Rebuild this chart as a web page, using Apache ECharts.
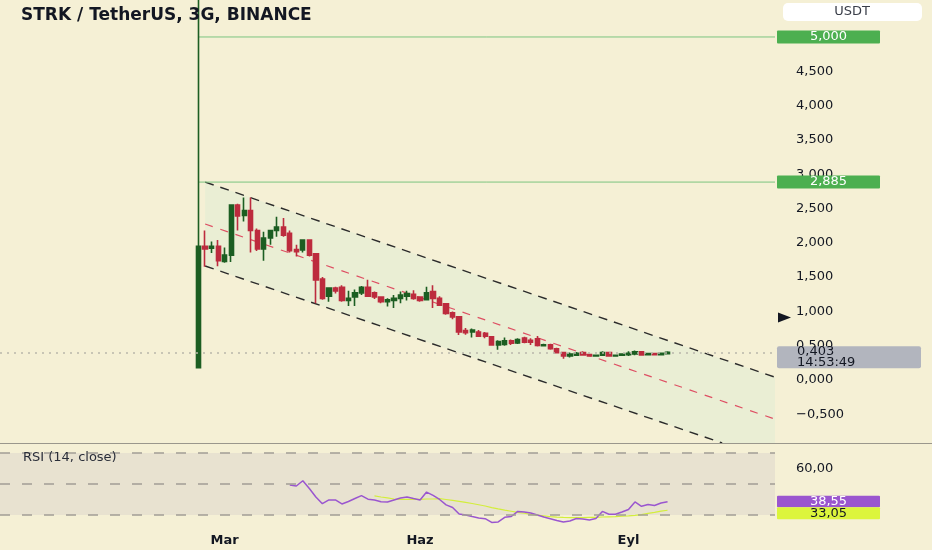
<!DOCTYPE html>
<html>
<head>
<meta charset="utf-8">
<script src="https://cdn.jsdelivr.net/npm/echarts/dist/echarts.min.js"></script>
<style>
html,body{margin:0;padding:0;background:#f5f0d5;}
#chart{width:932px;height:550px;}
</style>
</head>
<body>
<div id="chart"></div>
<script>
// ---------- data ----------
const title = 'STRK / TetherUS, 3G, BINANCE';
const firstCandleDate = '2024-02-20';
const stepDays = 3;
const padBefore = 30;      // empty category slots left of first candle
const totalCats = 119;     // category slots across plot width

// [open, close, low, high]
const candleOHLC = [
  [0.18, 1.95, 0.17, 5.60],
  [1.95, 1.91, 1.65, 2.18],
  [1.92, 1.95, 1.85, 2.02],
  [1.95, 1.74, 1.66, 2.04],
  [1.73, 1.82, 1.71, 1.93],
  [1.82, 2.55, 1.72, 2.56],
  [2.55, 2.39, 2.18, 2.57],
  [2.40, 2.47, 2.31, 2.66],
  [2.47, 2.18, 1.86, 2.66],
  [2.18, 1.91, 1.88, 2.21],
  [1.91, 2.07, 1.74, 2.16],
  [2.07, 2.18, 1.97, 2.19],
  [2.18, 2.23, 2.09, 2.38],
  [2.23, 2.11, 2.09, 2.36],
  [2.14, 1.885, 1.86, 2.18],
  [1.90, 1.87, 1.80, 1.97],
  [1.895, 2.04, 1.86, 2.05],
  [2.04, 1.82, 1.80, 2.05],
  [1.84, 1.46, 1.12, 1.84],
  [1.47, 1.19, 1.17, 1.50],
  [1.22, 1.34, 1.14, 1.34],
  [1.34, 1.30, 1.26, 1.36],
  [1.35, 1.16, 1.14, 1.38],
  [1.16, 1.19, 1.08, 1.30],
  [1.21, 1.27, 1.08, 1.32],
  [1.27, 1.35, 1.24, 1.37],
  [1.35, 1.22, 1.21, 1.46],
  [1.27, 1.21, 1.18, 1.29],
  [1.21, 1.14, 1.12, 1.22],
  [1.14, 1.17, 1.07, 1.19],
  [1.16, 1.19, 1.05, 1.24],
  [1.19, 1.24, 1.12, 1.29],
  [1.22, 1.26, 1.16, 1.30],
  [1.25, 1.19, 1.17, 1.31],
  [1.21, 1.16, 1.14, 1.22],
  [1.17, 1.27, 1.16, 1.36],
  [1.29, 1.19, 1.05, 1.38],
  [1.19, 1.09, 1.08, 1.22],
  [1.11, 0.97, 0.95, 1.12],
  [0.98, 0.92, 0.885, 1.00],
  [0.92, 0.70, 0.656, 0.93],
  [0.72, 0.69, 0.66, 0.76],
  [0.70, 0.73, 0.62, 0.75],
  [0.70, 0.64, 0.63, 0.73],
  [0.68, 0.64, 0.61, 0.70],
  [0.63, 0.51, 0.51, 0.64],
  [0.51, 0.56, 0.44, 0.58],
  [0.52, 0.57, 0.50, 0.62],
  [0.57, 0.535, 0.51, 0.59],
  [0.54, 0.59, 0.525, 0.61],
  [0.61, 0.55, 0.535, 0.63],
  [0.58, 0.55, 0.51, 0.61],
  [0.60, 0.505, 0.49, 0.64],
  [0.50, 0.515, 0.49, 0.53],
  [0.515, 0.456, 0.44, 0.53],
  [0.456, 0.40, 0.39, 0.47],
  [0.40, 0.35, 0.31, 0.41],
  [0.35, 0.38, 0.33, 0.40],
  [0.36, 0.39, 0.35, 0.41],
  [0.40, 0.365, 0.355, 0.42],
  [0.37, 0.35, 0.345, 0.38],
  [0.35, 0.36, 0.34, 0.37],
  [0.36, 0.40, 0.35, 0.42],
  [0.40, 0.35, 0.34, 0.41],
  [0.35, 0.36, 0.34, 0.37],
  [0.36, 0.38, 0.35, 0.39],
  [0.37, 0.39, 0.35, 0.42],
  [0.38, 0.41, 0.36, 0.43],
  [0.41, 0.365, 0.36, 0.42],
  [0.37, 0.385, 0.36, 0.39],
  [0.385, 0.37, 0.36, 0.39],
  [0.37, 0.39, 0.36, 0.40],
  [0.385, 0.403, 0.375, 0.42]
];

const rsiStart = 14;   // candle index of first RSI value
const rsiValues = [
  49.4, 48.7, 52.1, 47.1, 41.6, 37.3, 39.7, 39.7, 37.1, 38.7,
  40.6, 42.5, 40.2, 39.7, 38.6, 38.4, 39.7, 41.0, 41.6, 40.6,
  39.7, 44.8, 42.6, 40.0, 36.5, 34.8, 30.6, 30.0, 29.0, 28.1,
  27.6, 25.2, 25.5, 28.5, 29.0, 32.3, 31.9, 31.3, 30.0, 28.7,
  27.6, 26.5, 25.5, 26.1, 27.7, 27.4, 26.8, 27.7, 32.3, 30.5,
  30.5, 31.9, 33.5, 38.4, 35.6, 36.8, 36.1, 37.7, 38.55
];
const rsiMaStart = 27; // candle index of first RSI-MA value
const rsiMaValues = [
  42.3, 41.6, 41.0, 40.3, 40.1, 40.1, 40.1, 40.1, 40.3, 40.3,
  40.5, 40.0, 39.4, 38.8, 38.1, 37.4, 36.6, 35.8, 34.8, 33.9,
  33.1, 32.4, 31.7, 31.1, 30.4, 29.9, 29.4, 28.9, 28.6, 28.4,
  28.3, 28.3, 28.3, 28.4, 28.5, 28.7, 28.8, 28.9, 29.2, 29.4,
  29.7, 30.2, 31.0, 31.7, 32.5, 33.05
];

const priceTicks = [-0.5, 0, 0.5, 1, 1.5, 2, 2.5, 3, 3.5, 4, 4.5];
const rsiTicks = [60];
const rsiLevels = [70, 50, 30];
const monthTickDates = ['2024-03-03', '2024-06-01', '2024-09-05'];
const monthTickLabels = ['Mar', 'Haz', 'Eyl'];

const hLevels = [5.0, 2.885];
const channelStartCandle = 1;
const channelUpper = 2.885;
const channelLower = 1.662;
const channelSlope = -0.0325; // per candle
const lastPrice = 0.403;
const countdown = '14:53:49';
const markerLevel = 0.91;
const rsiLast = 38.55;
const rsiMaLast = 33.05;

// ---------- build ----------
const DAY = 86400000;
const t0 = Date.parse(firstCandleDate + 'T00:00:00Z');
const categories = [];
for (let k = 0; k < totalCats; k++) {
  const d = new Date(t0 + (k - padBefore) * stepDays * DAY);
  categories.push(d.toISOString().slice(0, 10));
}
const candleData = candleOHLC.map((d, i) => [padBefore + i, d[0], d[1], d[2], d[3]]);
const rsiData = rsiValues.map((v, i) => [padBefore + rsiStart + i, v]);
const rsiMaData = rsiMaValues.map((v, i) => [padBefore + rsiMaStart + i, v]);

const fmtPrice = v => (v < 0 ? '\u2212' : '') + Math.abs(v).toFixed(3).replace('.', ',');
const fmt2 = v => v.toFixed(2).replace('.', ',');

const FONT = 'DejaVu Sans';
const TXT = '#131722';
const UP = '#1c5e22', DOWN = '#bd2b3e';

const chart = echarts.init(document.getElementById('chart'), null, {renderer: 'canvas'});

const option = {
  backgroundColor: '#f5f0d5',
  animation: false,
  title: [
    {text: title, left: 16, top: 2,
     textStyle: {fontFamily: FONT, fontWeight: 'bold', fontSize: 17, color: TXT}},
    {text: 'RSI (14, close)', left: 18, top: 446,
     textStyle: {fontFamily: FONT, fontWeight: 'normal', fontSize: 13, color: '#2a2e39'}}
  ],
  grid: [
    {left: 0, right: 157, top: 0, height: 443},
    {left: 0, right: 157, top: 445, bottom: 22}
  ],
  xAxis: [
    {type: 'category', gridIndex: 0, data: categories, boundaryGap: true,
     axisLine: {show: false}, axisTick: {show: false}, axisLabel: {show: false}, splitLine: {show: false}},
    {type: 'category', gridIndex: 1, data: categories, boundaryGap: true,
     axisLine: {show: false}, axisTick: {show: false}, splitLine: {show: false},
     axisLabel: {
       interval: (idx, val) => monthTickDates.indexOf(val) >= 0,
       formatter: val => { const j = monthTickDates.indexOf(val); return j >= 0 ? monthTickLabels[j] : ''; },
       fontFamily: FONT, fontWeight: 'bold', fontSize: 13, color: TXT, margin: 6
     }}
  ],
  yAxis: [
    {type: 'value', gridIndex: 0, position: 'right', min: -0.918, max: 5.539,
     axisLine: {show: false}, axisTick: {show: false}, splitLine: {show: false},
     axisLabel: {customValues: priceTicks, formatter: fmtPrice, fontFamily: FONT, fontSize: 13,
                 color: TXT, margin: 21, align: 'left'}},
    {type: 'value', gridIndex: 1, position: 'right', min: 21.6, max: 75.16,
     axisLine: {show: false}, axisTick: {show: false}, splitLine: {show: false},
     axisLabel: {customValues: rsiTicks, formatter: fmt2, fontFamily: FONT, fontSize: 13,
                 color: TXT, margin: 21, align: 'left'}}
  ],
  series: [
    {
      type: 'custom', name: 'drawings', xAxisIndex: 0, yAxisIndex: 0, z: 1, silent: true, clip: true,
      data: [[padBefore, 0]],
      renderItem: function (params, api) {
        const cs = params.coordSys;
        const xr = cs.x + cs.width;
        const yb = cs.y + cs.height;
        const c0 = padBefore + channelStartCandle, c1 = c0 + 20;
        function lineAt(v0) {
          const a = api.coord([c0, v0]);
          const b = api.coord([c1, v0 + channelSlope * 20]);
          const k = (b[1] - a[1]) / (b[0] - a[0]);
          return {a: a, k: k, yR: a[1] + k * (xr - a[0])};
        }
        const up = lineAt(channelUpper);
        const lo = lineAt(channelLower);
        const mid = lineAt((channelUpper + channelLower) / 2);
        let loEnd = [xr, lo.yR];
        const pts = [up.a, [xr, up.yR]];
        if (lo.yR > yb) {
          const xi = lo.a[0] + (yb - lo.a[1]) / lo.k;
          loEnd = [xi, yb];
          pts.push([xr, yb], [xi, yb]);
        } else {
          pts.push([xr, lo.yR]);
        }
        pts.push(lo.a);
        const children = [
          {type: 'polygon', shape: {points: pts}, style: {fill: '#eaeed4'}},
          {type: 'line', shape: {x1: mid.a[0], y1: mid.a[1], x2: xr, y2: mid.yR},
           style: {stroke: '#de4f63', lineWidth: 1.2, lineDash: [8, 8]}},
          {type: 'line', shape: {x1: up.a[0], y1: up.a[1], x2: xr, y2: up.yR},
           style: {stroke: '#2b2b2b', lineWidth: 1.4, lineDash: [9, 7]}},
          {type: 'line', shape: {x1: lo.a[0], y1: lo.a[1], x2: loEnd[0], y2: loEnd[1]},
           style: {stroke: '#2b2b2b', lineWidth: 1.4, lineDash: [9, 7]}}
        ];
        hLevels.forEach(v => {
          const p = api.coord([padBefore, v]);
          children.push({type: 'line', shape: {x1: p[0], y1: p[1], x2: xr, y2: p[1]},
                         style: {stroke: '#7cc47f', lineWidth: 1}});
        });
        return {type: 'group', children: children};
      }
    },
    {
      type: 'candlestick', name: 'STRK', xAxisIndex: 0, yAxisIndex: 0, z: 3,
      data: candleData, encode: {x: 0, y: [1, 2, 3, 4]},
      barWidth: '74%', clip: true,
      itemStyle: {color: UP, color0: DOWN, borderColor: UP, borderColor0: DOWN, borderWidth: 1.6},
      markLine: {
        silent: true, symbol: 'none', label: {show: false},
        lineStyle: {color: '#b9b6aa', type: [2, 5], width: 1.5},
        data: [{yAxis: lastPrice}]
      }
    },
    {
      type: 'line', name: 'RSI', xAxisIndex: 1, yAxisIndex: 1, z: 4,
      data: rsiData, showSymbol: false, symbol: 'none',
      lineStyle: {color: '#9a56cf', width: 1.5},
      markArea: {silent: true, itemStyle: {color: '#e8e2d0'},
                 data: [[{yAxis: rsiLevels[0]}, {yAxis: rsiLevels[2]}]]},
      markLine: {silent: true, symbol: 'none', label: {show: false},
                 lineStyle: {color: '#a19d95', type: [10, 12], width: 1.5},
                 data: rsiLevels.map(v => ({yAxis: v}))}
    },
    {
      type: 'line', name: 'RSI MA', xAxisIndex: 1, yAxisIndex: 1, z: 3,
      data: rsiMaData, showSymbol: false, symbol: 'none',
      lineStyle: {color: '#d3ee3c', width: 1.2}
    }
  ]
};
chart.setOption(option);

// ---------- price-scale labels ----------
const yP = v => chart.convertToPixel({yAxisIndex: 0}, v);
const yR = v => chart.convertToPixel({yAxisIndex: 1}, v);
const LX = 777, LW = 103;
const graphics = [];
graphics.push({type: 'line', z: 20, shape: {x1: 0, y1: 443.5, x2: 932, y2: 443.5},
               style: {stroke: '#9a978c', lineWidth: 1}});
graphics.push({type: 'rect', z: 20, shape: {x: 783, y: 3, width: 139, height: 18, r: 5},
               style: {fill: '#ffffff'}});
graphics.push({type: 'text', z: 21, x: 852, y: 12,
               style: {text: 'USDT', fill: '#3a3e49', font: '13px "DejaVu Sans"', align: 'center', verticalAlign: 'middle'}});
hLevels.forEach(v => {
  const y = yP(v);
  graphics.push({type: 'rect', z: 20, shape: {x: LX, y: y - 6.5, width: LW, height: 13, r: 1},
                 style: {fill: '#4caf50'}});
  graphics.push({type: 'text', z: 21, x: LX + LW / 2, y: y,
                 style: {text: fmtPrice(v), fill: '#ffffff', font: '13px "DejaVu Sans"', align: 'center', verticalAlign: 'middle'}});
});
const ym = yP(markerLevel);
graphics.push({type: 'polygon', z: 20, shape: {points: [[778, ym - 5], [791, ym], [778, ym + 5]]},
               style: {fill: '#131722'}});
const yl = yP(lastPrice);
graphics.push({type: 'rect', z: 20, shape: {x: LX, y: yl - 6, width: 144, height: 22, r: 2},
               style: {fill: '#b2b5be'}});
graphics.push({type: 'text', z: 21, x: 797, y: yl - 0.5,
               style: {text: fmtPrice(lastPrice), fill: TXT, font: '13px "DejaVu Sans"', align: 'left', verticalAlign: 'middle'}});
graphics.push({type: 'text', z: 21, x: 797, y: yl + 10,
               style: {text: countdown, fill: TXT, font: '13px "DejaVu Sans"', align: 'left', verticalAlign: 'middle'}});
const yr1 = yR(rsiLast);
graphics.push({type: 'rect', z: 20, shape: {x: LX, y: yr1 - 6, width: LW, height: 11.5, r: 1},
               style: {fill: '#9a56cf'}});
graphics.push({type: 'text', z: 21, x: LX + LW / 2, y: yr1,
               style: {text: fmt2(rsiLast), fill: '#ffffff', font: '13px "DejaVu Sans"', align: 'center', verticalAlign: 'middle'}});
const yr2 = yr1 + 11.5;
graphics.push({type: 'rect', z: 20, shape: {x: LX, y: yr2 - 6, width: LW, height: 12, r: 1},
               style: {fill: '#dcf53c'}});
graphics.push({type: 'text', z: 21, x: LX + LW / 2, y: yr2 + 0.5,
               style: {text: fmt2(rsiMaLast), fill: TXT, font: '13px "DejaVu Sans"', align: 'center', verticalAlign: 'middle'}});
chart.setOption({graphic: graphics});
</script>
</body>
</html>
